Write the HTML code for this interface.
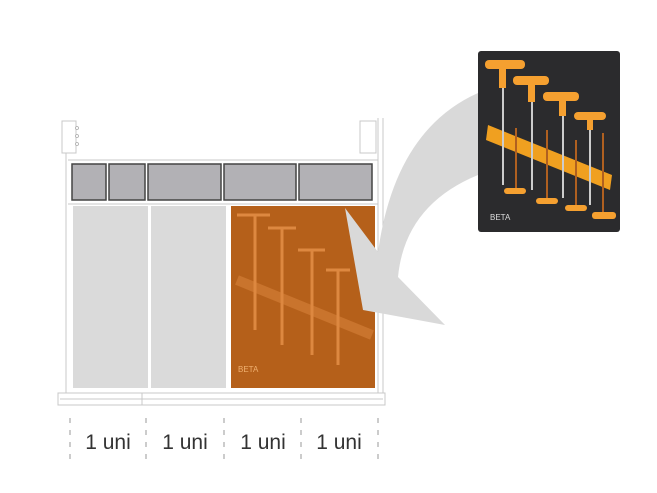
<!DOCTYPE html>
<html><head><style>
html,body{margin:0;padding:0;background:#fff;}
svg{display:block;}
text{font-family:"Liberation Sans",sans-serif;}
</style></head><body>
<svg width="657" height="493" viewBox="0 0 657 493" xmlns="http://www.w3.org/2000/svg">
<!-- drawer frame -->
<g stroke="#c8c8c8" fill="none" stroke-width="1">
<rect x="62" y="121" width="14" height="32"/>
<rect x="360" y="121" width="16" height="32"/>
<line x1="66" y1="153" x2="66" y2="395"/>
<line x1="383" y1="118" x2="383" y2="395"/>
<line x1="378" y1="118" x2="378" y2="395"/>
<line x1="68" y1="160" x2="378" y2="160"/>
<line x1="68" y1="204" x2="378" y2="204"/>
<rect x="58" y="393" width="327" height="12" fill="#fff"/>
<line x1="60" y1="399" x2="383" y2="399"/>
<line x1="142" y1="393" x2="142" y2="405"/>
</g>
<g fill="#fff" stroke="#aaa" stroke-width="0.8"><circle cx="77" cy="128" r="1.5"/><circle cx="77" cy="136" r="1.5"/><circle cx="77" cy="144" r="1.5"/></g>
<!-- bins -->
<g fill="#b2b1b5" stroke="#444" stroke-width="1.5">
<rect x="72" y="164" width="34" height="36"/>
<rect x="109" y="164" width="36" height="36"/>
<rect x="148" y="164" width="73" height="36"/>
<rect x="224" y="164" width="72" height="36"/>
<rect x="299" y="164" width="73" height="36"/>
</g>
<!-- panels -->
<rect x="73" y="206" width="75" height="182" fill="#dadada"/>
<rect x="151" y="206" width="75" height="182" fill="#dadada"/>
<rect x="231" y="206" width="144" height="182" fill="#b5601a"/>
<g fill="none" stroke="#e8924a" stroke-width="3" opacity="0.8">
<path d="M237,215 H270 M255,215 V330"/>
<path d="M268,228 H296 M282,228 V345"/>
<path d="M298,250 H325 M312,250 V355"/>
<path d="M326,270 H350 M338,270 V365"/>
<path d="M237,280 L372,335" stroke-width="10" opacity="0.5"/>
</g>
<text x="238" y="372" font-size="8" fill="#f0b070">BETA</text>
<!-- arrow -->
<path d="M478,93 Q395,130 378,252 L345,208 L363,310 L445,325 L398,277 Q405,205 478,175 Z" fill="#d9d9d9"/>
<!-- tray photo -->
<rect x="478" y="51" width="142" height="181" rx="3" fill="#2b2b2d"/>
<path d="M488,125 L612,175 L610,190 L486,140 Z" fill="#f0a020"/>
<g stroke="#ccc" stroke-width="2">
<line x1="503" y1="68" x2="503" y2="185"/><line x1="532" y1="82" x2="532" y2="190"/>
<line x1="563" y1="98" x2="563" y2="198"/><line x1="590" y1="117" x2="590" y2="205"/>
</g>
<g stroke="#b06020" stroke-width="2">
<line x1="516" y1="128" x2="516" y2="190"/><line x1="547" y1="130" x2="547" y2="198"/>
<line x1="576" y1="140" x2="576" y2="205"/><line x1="603" y1="133" x2="603" y2="215"/>
</g>
<g fill="#f5a030">
<rect x="485" y="60" width="40" height="9" rx="4"/><rect x="499" y="60" width="7" height="28"/>
<rect x="513" y="76" width="36" height="9" rx="4"/><rect x="528" y="76" width="7" height="26"/>
<rect x="543" y="92" width="36" height="9" rx="4"/><rect x="559" y="92" width="7" height="24"/>
<rect x="574" y="112" width="32" height="8" rx="4"/><rect x="587" y="112" width="6" height="18"/>
<rect x="504" y="188" width="22" height="6" rx="3"/>
<rect x="536" y="198" width="22" height="6" rx="3"/>
<rect x="565" y="205" width="22" height="6" rx="3"/>
<rect x="592" y="212" width="24" height="7" rx="3"/>
</g>
<text x="490" y="220" font-size="8" fill="#ddd">BETA</text>
<!-- dashes & labels -->
<g stroke="#bbb" stroke-width="1.5" stroke-dasharray="5,7">
<line x1="70" y1="418" x2="70" y2="462"/><line x1="146" y1="418" x2="146" y2="462"/>
<line x1="224" y1="418" x2="224" y2="462"/><line x1="301" y1="418" x2="301" y2="462"/>
<line x1="378" y1="418" x2="378" y2="462"/>
</g>
<g font-size="21" fill="#333" text-anchor="middle">
<text x="108" y="449">1 uni</text><text x="185" y="449">1 uni</text>
<text x="263" y="449">1 uni</text><text x="339" y="449">1 uni</text>
</g>
</svg>
</body></html>
